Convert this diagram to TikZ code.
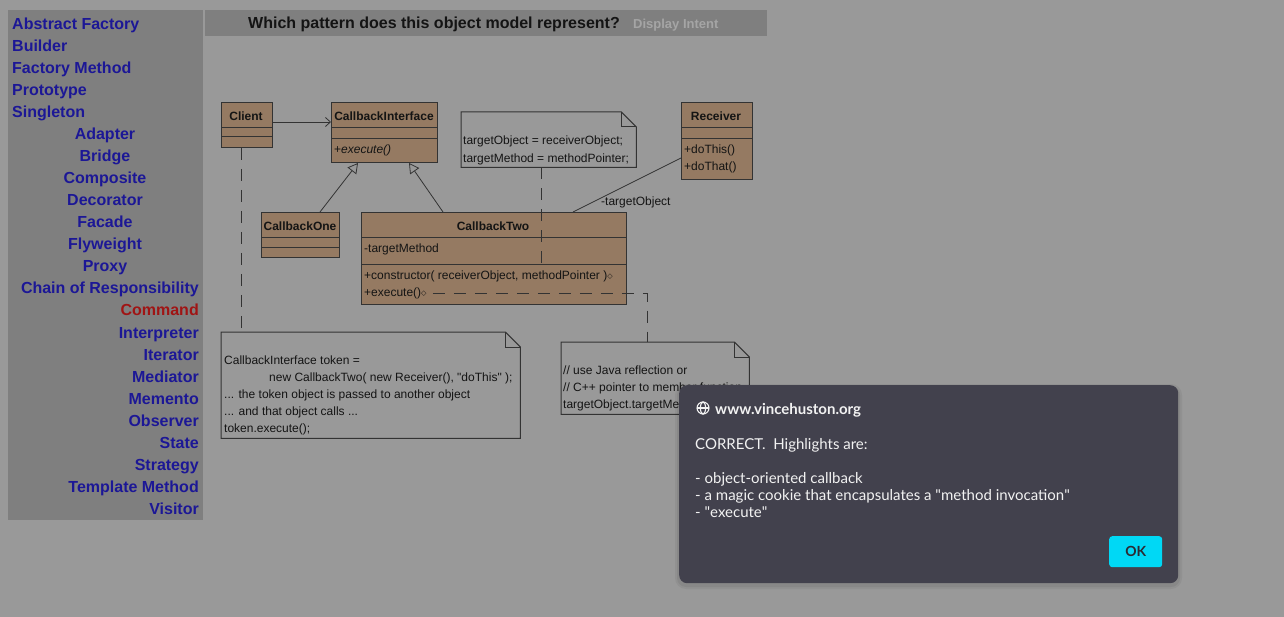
\documentclass[tikz,border=0pt]{standalone}
\usepackage{fontspec}
\setmainfont{Liberation Sans}
\newfontfamily\dlgfont{Lato}
\newfontfamily\symfont{DejaVu Sans}
\usetikzlibrary{arrows.meta,calc}

\definecolor{pagebg}{HTML}{999999}
\definecolor{panelbg}{HTML}{7F7F7F}
\definecolor{linkblue}{HTML}{1C1796}
\definecolor{linkred}{HTML}{A01414}
\definecolor{titletext}{HTML}{141414}
\definecolor{faint}{HTML}{A5A5A5}
\definecolor{umlfill}{HTML}{957A62}
\definecolor{umlline}{HTML}{333333}
\definecolor{umltext}{HTML}{141414}
\definecolor{dlgbg}{HTML}{42414D}
\definecolor{dlgtext}{HTML}{F2F2F2}
\definecolor{okcyan}{HTML}{00D8F5}
\definecolor{oktext}{HTML}{2B2A33}

% small open diamond after operations
\newcommand{\opmark}{{\symfont\fontsize{7}{7}\selectfont\raisebox{1.5pt}{◇}}}
% straight double quote
\newcommand{\dq}{\textquotedbl{}}

% UML note with folded corner, drawn on the frame of a named node
\newcommand{\umlnote}[1]{%
  \draw[notebox] (#1.north west) -- ($(#1.north east)+(-15,0)$) -- ($(#1.north east)+(0,15)$)
    -- (#1.south east) -- (#1.south west) -- cycle;
  \draw[notebox] ($(#1.north east)+(-15,0)$) -- ($(#1.north east)+(-15,15)$) -- ($(#1.north east)+(0,15)$);
}

\tikzset{
  link/.style={font=\bfseries\fontsize{16}{19}\selectfont, text=linkblue, inner sep=0pt},
  current/.style={link, text=linkred},
  panel/.style={fill=panelbg, draw=none, inner sep=0pt, anchor=north west},
  umlbox/.style={draw=umlline, fill=umlfill, line width=1pt, inner sep=0pt, anchor=north west},
  umlsep/.style={draw=umlline, line width=1pt},
  clsname/.style={font=\bfseries\fontsize{12}{14}\selectfont, text=umltext, inner sep=0pt},
  member/.style={font=\fontsize{12}{14}\selectfont, text=umltext, inner sep=0pt, anchor=base west},
  notearea/.style={inner sep=0pt, anchor=north west},
  notebox/.style={draw=umlline, line width=1pt},
  notelink/.style={draw=umlline, line width=1pt, dash pattern=on 12pt off 9pt},
  realize/.style={draw=umlline, line width=0.8pt, -{Triangle[open, length=10pt, width=11pt, fill=pagebg]}},
  uses/.style={draw=umlline, line width=0.8pt, -{Straight Barb[length=5pt, width=9pt]}},
  assoc/.style={draw=umlline, line width=0.8pt},
  dlgline/.style={font=\dlgfont\fontsize{15}{18}\selectfont, text=dlgtext, inner sep=0pt, anchor=base west},
}

\begin{document}
\begin{tikzpicture}[x=1pt, y=-1pt]
\useasboundingbox[fill=pagebg] (0,0) rectangle (1284,617);

% ---------- navigation panel ----------
\node[panel, minimum width=195, minimum height=510] (nav) at (8,10) {};
\foreach \name [count=\i from 0] in {Abstract Factory,Builder,Factory Method,Prototype,Singleton}
  \node[link, anchor=base west] (create-\i) at (12,30+22*\i) {\name};
\foreach \name [count=\i from 5] in {Adapter,Bridge,Composite,Decorator,Facade,Flyweight,Proxy}
  \node[link, anchor=base] (struct-\i) at (105,30+22*\i) {\name};
\node[link, anchor=base east] (behav-12) at (199,294) {Chain of Responsibility};
\node[current, anchor=base east] (behav-13) at (199,316) {Command};
\foreach \name [count=\i from 14] in {Interpreter,Iterator,Mediator,Memento,Observer,State,Strategy,Template Method,Visitor}
  \node[link, anchor=base east] (behav-\i) at (199,30+22*\i) {\name};

% ---------- title bar ----------
\node[panel, minimum width=562, minimum height=26] (titlebar) at (205,10) {};
\node[font=\bfseries\fontsize{16}{19}\selectfont, text=titletext, inner sep=0pt, anchor=base] (title) at (434,29) {Which pattern does this object model represent?};
\node[font=\bfseries\fontsize{13}{15}\selectfont, text=faint, inner sep=0pt, anchor=base west] (intent) at (633,29) {Display Intent};

% ---------- classes ----------
\node[umlbox, minimum width=51, minimum height=45] (client) at (221,102) {};
\draw[umlsep] ($(client.north west)+(0,26)$) -- ($(client.north east)+(0,26)$);
\draw[umlsep] ($(client.north west)+(0,35)$) -- ($(client.north east)+(0,35)$);
\node[clsname] (client-name) at (246,116) {Client};

\node[umlbox, minimum width=106, minimum height=60] (ci) at (331,102) {};
\draw[umlsep] ($(ci.north west)+(0,26)$) -- ($(ci.north east)+(0,26)$);
\draw[umlsep] ($(ci.north west)+(0,37)$) -- ($(ci.north east)+(0,37)$);
\node[clsname] (ci-name) at (384,116) {CallbackInterface};
\node[member] (ci-exec) at (334,154) {+\textit{execute()}};

\node[umlbox, minimum width=71, minimum height=77] (recv) at (681,102) {};
\draw[umlsep] ($(recv.north west)+(0,26)$) -- ($(recv.north east)+(0,26)$);
\draw[umlsep] ($(recv.north west)+(0,37)$) -- ($(recv.north east)+(0,37)$);
\node[clsname] (recv-name) at (716,116) {Receiver};
\node[member] (recv-this) at (684,154) {+doThis()};
\node[member] (recv-that) at (684,171) {+doThat()};

\node[umlbox, minimum width=78, minimum height=45] (cb1) at (261,212) {};
\draw[umlsep] ($(cb1.north west)+(0,26)$) -- ($(cb1.north east)+(0,26)$);
\draw[umlsep] ($(cb1.north west)+(0,36)$) -- ($(cb1.north east)+(0,36)$);
\node[clsname] (cb1-name) at (300,226) {CallbackOne};

\node[umlbox, minimum width=265, minimum height=92] (cb2) at (361,212) {};
\draw[umlsep] ($(cb2.north west)+(0,26)$) -- ($(cb2.north east)+(0,26)$);
\draw[umlsep] ($(cb2.north west)+(0,53)$) -- ($(cb2.north east)+(0,53)$);
\node[clsname] (cb2-name) at (493,226) {CallbackTwo};
\node[member] (cb2-attr) at (364,253) {-targetMethod};
\node[member] (cb2-ctor) at (364,280) {+constructor( receiverObject, methodPointer )\opmark};
\node[member] (cb2-exec) at (364,297) {+execute()\opmark};

% ---------- notes ----------
\node[notearea, minimum width=175, minimum height=55] (note1) at (461,112) {};
\umlnote{note1}
\node[member] (note1-l1) at (463,145) {targetObject = receiverObject;};
\node[member] (note1-l2) at (463,163) {targetMethod = methodPointer;};

\node[notearea, minimum width=299, minimum height=106] (note3) at (221,332) {};
\umlnote{note3}
\node[member] (note3-l1) at (224,364) {CallbackInterface token =};
\node[member] (note3-l2) at (269,381) {new CallbackTwo( new Receiver(), \dq doThis\dq\ );};
\node[member] (note3-l3) at (224,398) {... the token object is passed to another object};
\node[member] (note3-l4) at (224,415) {... and that object calls ...};
\node[member] (note3-l5) at (224,432) {token.execute();};

\node[notearea, minimum width=188, minimum height=72] (note2) at (561,342) {};
\umlnote{note2}
\node[member] (note2-l1) at (563,374) {// use Java reflection or};
\node[member] (note2-l2) at (563,391) {// C++ pointer to member function};
\node[member] (note2-l3) at (563,408) {targetObject.targetMethod();};

% ---------- relationships ----------
\draw[uses] ($(client.north east)+(0,20)$) -- ($(ci.north west)+(0,20)$);
\draw[realize] ($(cb1.north west)+(59,0)$) -- ($(ci.south west)+(27,0)$);
\draw[realize] ($(cb2.north west)+(82,0)$) -- ($(ci.south west)+(78,0)$);
\draw[assoc] ($(cb2.north west)+(212,0)$) -- ($(recv.north west)+(0,56)$);
\node[member] (assoc-role) at (601,206) {-targetObject};

\draw[notelink] ($(client.south west)+(20,0)$) -- ($(note3.north west)+(20,0)$);
\draw[notelink] ($(note1.south west)+(80,0)$) -- ($(cb2.north west)+(180,53)$);
\draw[notelink] ($(cb2-exec.east)+(6,0)$) -| ($(note2.north west)+(86,0)$);

% ---------- alert dialog ----------
\fill[black, opacity=0.05, rounded corners=11pt] (675,384) rectangle (1182,589);
\fill[black, opacity=0.06, rounded corners=9pt] (677,386) rectangle (1180,587);
\node[fill=dlgbg, rounded corners=8pt, inner sep=0pt, anchor=north west,
      minimum width=499, minimum height=198] (dlg) at (679,385) {};
\begin{scope}[draw=dlgtext, line width=1.1pt]
  \draw (703,408) circle[radius=6];
  \draw (703,408) ellipse[x radius=2.6, y radius=6];
  \draw (697,408) -- (709,408);
\end{scope}
\node[dlgline, font=\dlgfont\bfseries\fontsize{15}{18}\selectfont] (dlg-site) at (715,414) {www.vincehuston.org};
\node[dlgline] (dlg-l1) at (695,449) {CORRECT.\ \ Highlights are:};
\node[dlgline] (dlg-l2) at (695,483) {- object-oriented callback};
\node[dlgline] (dlg-l3) at (695,500) {- a magic cookie that encapsulates a \dq method invocation\dq};
\node[dlgline] (dlg-l4) at (695,517) {- \dq execute\dq};
\node[fill=okcyan, rounded corners=3pt, inner sep=0pt, anchor=north west,
      minimum width=53, minimum height=31] (ok) at (1109,536) {};
\node[font=\dlgfont\bfseries\fontsize{14}{17}\selectfont, text=oktext, inner sep=0pt] (ok-label) at (ok.center) {OK};
\end{tikzpicture}
\end{document}
